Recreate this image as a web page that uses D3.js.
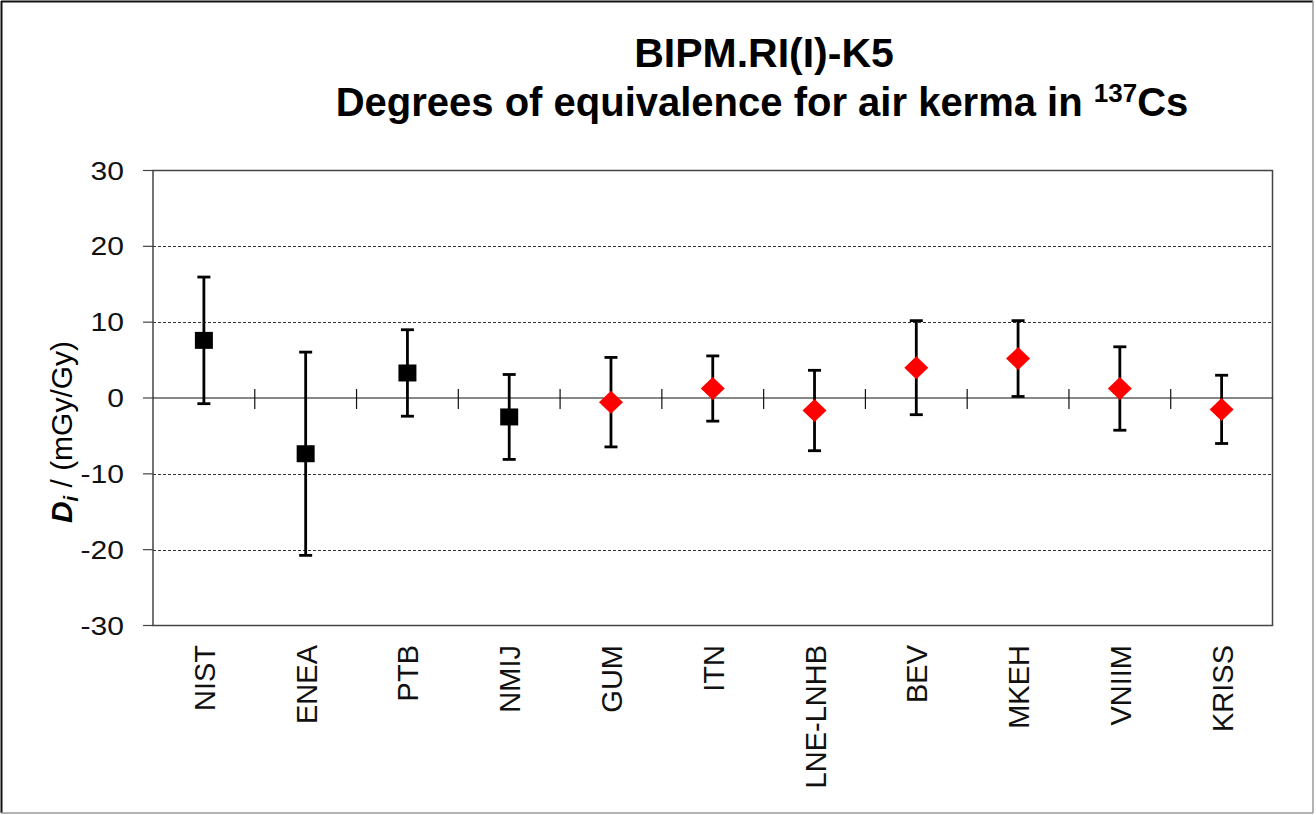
<!DOCTYPE html>
<html>
<head>
<meta charset="utf-8">
<script src="https://cdn.jsdelivr.net/npm/d3@7"></script>
<style>
  body { margin: 0; background: #fff; }
  svg text { font-family: "Liberation Sans", Arial, sans-serif; }
</style>
</head>
<body>
<div id="chart"></div>
<script>
// data
const labs = ["NIST", "ENEA", "PTB", "NMIJ", "GUM", "ITN", "LNE-LNHB", "BEV", "MKEH", "VNIIM", "KRISS"];
const di = [7.6, -7.35, 3.3, -2.5, -0.55, 1.25, -1.65, 4.0, 5.2, 1.25, -1.5];
const ui = [8.35, 13.4, 5.7, 5.6, 5.9, 4.3, 5.3, 6.2, 5.0, 5.5, 4.5];
const marker = ["square", "square", "square", "square", "diamond", "diamond", "diamond", "diamond", "diamond", "diamond", "diamond"];
const yTicks = [-30, -20, -10, 0, 10, 20, 30];
const gridVals = [-20, -10, 10, 20];

const width = 1316, height = 815;
const plot = { left: 153, right: 1272.5, top: 170.5, bottom: 625.5 };

const svg = d3.select("#chart").append("svg")
  .attr("width", width)
  .attr("height", height);

// outer frame
svg.append("line").attr("x1", 1).attr("x2", 1313).attr("y1", 1.5).attr("y2", 1.5).attr("stroke", "#111").attr("stroke-width", 2);
svg.append("line").attr("x1", 1.5).attr("x2", 1.5).attr("y1", 1).attr("y2", 813).attr("stroke", "#111").attr("stroke-width", 2);
svg.append("line").attr("x1", 1313).attr("x2", 1313).attr("y1", 1).attr("y2", 813).attr("stroke", "#999").attr("stroke-width", 1.5);
svg.append("line").attr("x1", 1).attr("x2", 1313).attr("y1", 813).attr("y2", 813).attr("stroke", "#999").attr("stroke-width", 1.5);

const x = d3.scaleBand().domain(labs).range([plot.left, plot.right]);
const y = d3.scaleLinear().domain([-30, 30]).range([plot.bottom, plot.top]);

// title
svg.append("text")
  .attr("x", 764).attr("y", 67)
  .attr("text-anchor", "middle")
  .attr("font-size", 41).attr("font-weight", "bold")
  .text("BIPM.RI(I)-K5");

const t2 = svg.append("text")
  .attr("x", 762).attr("y", 116)
  .attr("text-anchor", "middle")
  .attr("font-size", 40).attr("font-weight", "bold");
t2.append("tspan").text("Degrees of equivalence for air kerma in ");
t2.append("tspan").attr("font-size", 26).attr("dy", -14).text("137");
t2.append("tspan").attr("dy", 14).text("Cs");

// grid lines
svg.append("g")
  .selectAll("line")
  .data(gridVals)
  .join("line")
  .attr("x1", plot.left).attr("x2", plot.right)
  .attr("y1", d => Math.round(y(d)) + 0.5).attr("y2", d => Math.round(y(d)) + 0.5)
  .attr("stroke", "#333")
  .attr("stroke-width", 1)
  .attr("stroke-dasharray", "3,2");

// plot border
svg.append("rect")
  .attr("x", plot.left).attr("y", plot.top)
  .attr("width", plot.right - plot.left).attr("height", plot.bottom - plot.top)
  .attr("fill", "none")
  .attr("stroke", "#444")
  .attr("stroke-width", 1.5);

// y ticks + labels
const yAxis = svg.append("g");
yAxis.selectAll("line")
  .data(yTicks)
  .join("line")
  .attr("x1", plot.left - 10).attr("x2", plot.left)
  .attr("y1", d => y(d)).attr("y2", d => y(d))
  .attr("stroke", "#444").attr("stroke-width", 1.2);
yAxis.selectAll("text")
  .data(yTicks)
  .join("text")
  .attr("transform", d => `translate(124,${y(d) + 9}) scale(1.18,1)`)
  .attr("text-anchor", "end")
  .attr("font-size", 25.5)
  .attr("fill", "#111")
  .text(d => d);

// y axis title
const yt = svg.append("text")
  .attr("transform", "translate(72,432) rotate(-90)")
  .attr("text-anchor", "middle")
  .attr("font-size", 30);
yt.append("tspan").attr("font-weight", "bold").attr("font-style", "italic").text("D");
yt.append("tspan").attr("font-weight", "bold").attr("font-style", "italic").attr("font-size", 20).attr("dy", 6).text("i");
yt.append("tspan").attr("dy", -6).text(" / (mGy/Gy)");

// zero line with cross ticks between categories
svg.append("line")
  .attr("x1", plot.left).attr("x2", plot.right)
  .attr("y1", y(0)).attr("y2", y(0))
  .attr("stroke", "#111").attr("stroke-width", 1.2);
svg.append("g")
  .selectAll("line")
  .data(labs.slice(1))
  .join("line")
  .attr("x1", d => x(d)).attr("x2", d => x(d))
  .attr("y1", y(0) - 9).attr("y2", y(0) + 11)
  .attr("stroke", "#111").attr("stroke-width", 1.2);

// category labels
svg.append("g")
  .selectAll("text")
  .data(labs)
  .join("text")
  .attr("transform", d => `translate(${x(d) + x.bandwidth() / 2 + 11},645) rotate(-90)`)
  .attr("text-anchor", "end")
  .attr("font-size", 29)
  .attr("fill", "#111")
  .text(d => d);

// error bars
const pts = labs.map((d, i) => ({ lab: d, v: di[i], u: ui[i], m: marker[i] }));
const cx = d => x(d.lab) + x.bandwidth() / 2;
const eb = svg.append("g").attr("stroke", "#000").attr("stroke-width", 2.8);
eb.selectAll("line.stem")
  .data(pts)
  .join("line").attr("class", "stem")
  .attr("x1", cx).attr("x2", cx)
  .attr("y1", d => y(d.v + d.u)).attr("y2", d => y(d.v - d.u));
eb.selectAll("line.top")
  .data(pts)
  .join("line").attr("class", "top")
  .attr("x1", d => cx(d) - 6.5).attr("x2", d => cx(d) + 6.5)
  .attr("y1", d => y(d.v + d.u)).attr("y2", d => y(d.v + d.u));
eb.selectAll("line.bot")
  .data(pts)
  .join("line").attr("class", "bot")
  .attr("x1", d => cx(d) - 6.5).attr("x2", d => cx(d) + 6.5)
  .attr("y1", d => y(d.v - d.u)).attr("y2", d => y(d.v - d.u));

// markers
svg.append("g")
  .selectAll("path")
  .data(pts)
  .join("path")
  .attr("transform", d => `translate(${cx(d)},${y(d.v)})`)
  .attr("d", d => d.m === "square"
    ? "M-9,-8.5H9V8.5H-9Z"
    : "M0,-11.5L12,0L0,11.5L-12,0Z")
  .attr("fill", d => d.m === "square" ? "#000" : "#ff0000");
</script>
</body>
</html>
